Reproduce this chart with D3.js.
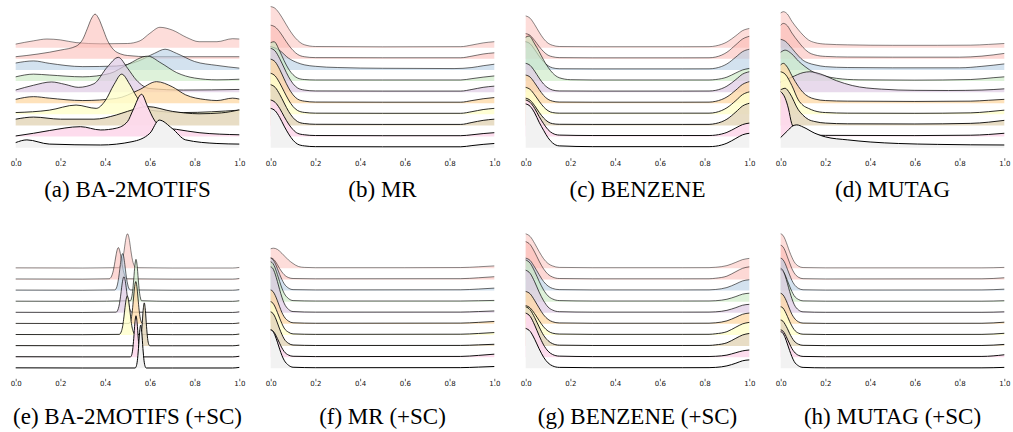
<!DOCTYPE html>
<html>
<head>
<meta charset="utf-8">
<script src="https://cdn.jsdelivr.net/npm/d3@7"></script>
<style>
  html, body { margin: 0; background: #fff; }
  svg { display: block; }
</style>
</head>
<body>
<svg id="fig" width="1013" height="432"></svg>
<script>
// Pastel1 colours sampled for ten ridges (first colour repeats)
const rowColors = ["#fbb4ae", "#fbb4ae", "#b3cde3", "#ccebc5", "#decbe4",
                   "#fed9a6", "#ffffcc", "#e5d8bd", "#fddaec", "#f2f2f2"];

const tickValues = [0, 0.2, 0.4, 0.6, 0.8, 1.0];
const tickLabels = ["0.0", "0.2", "0.4", "0.6", "0.8", "1.0"];

const captions = ["(a) BA-2MOTIFS", "(b) MR", "(c) BENZENE", "(d) MUTAG",
                  "(e) BA-2MOTIFS (+SC)", "(f) MR (+SC)", "(g) BENZENE (+SC)", "(h) MUTAG (+SC)"];

// Density estimates per ridge: [score, density]
const baMotifs = [
  [[0,1.2],[0.08,2.3],[0.14,2.9],[0.2,2.6],[0.27,1.7],[0.38,1.3],[0.5,1.4],[0.556,2.3],[0.6,4.8],[0.645,6.8],[0.7,5.9],[0.765,3.4],[0.82,2.0],[0.9,2.0],[0.97,3.0],[1,2.9]],
  [[0,0.7],[0.1,1.6],[0.2,2.9],[0.27,4.2],[0.3,6.5],[0.32,10],[0.34,13.6],[0.355,14.9],[0.37,13.6],[0.39,10],[0.41,6.2],[0.437,3.1],[0.47,1.6],[0.5,1.1],[0.6,0.7],[1,0.7]],
  [[0,2.3],[0.08,3.0],[0.15,2.2],[0.3,1.1],[0.45,1.3],[0.55,3.0],[0.62,5.5],[0.668,6.9],[0.72,5.5],[0.8,2.8],[0.9,1.5],[1,0.6]],
  [[0,1.4],[0.08,2.3],[0.15,2.0],[0.3,1.4],[0.42,2.5],[0.5,5.5],[0.59,8.3],[0.65,6.0],[0.72,2.8],[0.8,1.0],[0.9,0.4],[1,0.6]],
  [[0,0.7],[0.08,2.3],[0.16,3.4],[0.22,2.6],[0.28,1.6],[0.35,2.8],[0.41,8.4],[0.459,11.6],[0.5,8],[0.54,4],[0.6,1.2],[0.75,0.7],[1,0.9]],
  [[0,1.3],[0.08,2.2],[0.15,1.7],[0.3,0.9],[0.45,1.6],[0.55,4.4],[0.63,7.2],[0.7,5.5],[0.76,2.8],[0.85,1.2],[0.9,0.9],[0.97,1.7],[1,1.4]],
  [[0,0.6],[0.15,1.4],[0.27,3.1],[0.36,2.0],[0.4,4.5],[0.44,10],[0.474,13.4],[0.51,10],[0.54,6.0],[0.6,1.4],[0.75,0.6],[1,1.4]],
  [[0,2.1],[0.08,2.8],[0.2,2.1],[0.35,2.1],[0.45,3.5],[0.5,4.7],[0.59,6.3],[0.7,4.7],[0.82,3.9],[0.92,4.2],[1,5.2]],
  [[0,0.2],[0.08,1.1],[0.15,2.0],[0.29,3.3],[0.38,2.2],[0.45,2.8],[0.5,5],[0.525,8.9],[0.563,14.1],[0.59,10],[0.62,5.5],[0.66,3.0],[0.72,2.4],[0.82,1.3],[1,0.6]],
  [[0,1.7],[0.05,2.6],[0.15,1.2],[0.38,0.9],[0.52,2.0],[0.6,4.8],[0.642,9.2],[0.7,6.4],[0.76,2.6],[0.9,1.4],[1,1.2]]
];

const mr = [
  [[0,13.7],[0.02,13.1],[0.04,11.3],[0.06,8.9],[0.08,6.4],[0.1,4.2],[0.12,2.5],[0.15,1.0],[0.2,0.4],[0.5,0.3],[0.85,0.35],[0.9,0.9],[0.95,1.6],[1,2.0]],
  [[0,11.2],[0.02,10.6],[0.04,9.0],[0.06,6.8],[0.08,4.6],[0.1,2.8],[0.12,1.5],[0.15,0.7],[0.2,0.4],[0.5,0.35],[0.85,0.35],[0.9,0.9],[0.95,1.6],[1,2.0]],
  [[0,7.8],[0.04,6.5],[0.08,3.9],[0.12,2.4],[0.15,1.7],[0.2,1.2],[0.3,0.8],[0.5,0.55],[0.82,0.45],[0.9,0.8],[0.95,1.4],[1,1.9]],
  [[0,12.8],[0.015,13.1],[0.04,10.0],[0.06,6.8],[0.08,4.0],[0.1,2.1],[0.12,1.0],[0.15,0.5],[0.2,0.35],[0.5,0.35],[0.85,0.35],[0.9,0.8],[0.95,1.3],[1,1.7]],
  [[0,14.6],[0.02,13.7],[0.04,11.2],[0.06,8.1],[0.08,5.1],[0.1,2.8],[0.12,1.4],[0.15,0.7],[0.2,0.4],[0.5,0.35],[0.85,0.35],[0.9,0.9],[0.95,1.6],[1,2.0]],
  [[0,14.7],[0.02,13.8],[0.04,11.3],[0.06,8.1],[0.08,5.1],[0.1,2.8],[0.12,1.4],[0.15,0.7],[0.2,0.4],[0.5,0.35],[0.85,0.35],[0.9,0.9],[0.95,1.5],[1,1.9]],
  [[0,13.7],[0.02,12.8],[0.04,10.5],[0.06,7.6],[0.08,4.8],[0.1,2.6],[0.12,1.3],[0.15,0.65],[0.2,0.4],[0.5,0.35],[0.85,0.35],[0.9,0.9],[0.95,1.6],[1,2.0]],
  [[0,13.6],[0.02,12.7],[0.04,10.4],[0.06,7.5],[0.08,4.7],[0.1,2.6],[0.12,1.3],[0.15,0.65],[0.2,0.4],[0.5,0.35],[0.85,0.35],[0.9,1.0],[0.95,1.7],[1,2.1]],
  [[0,12.2],[0.02,11.4],[0.04,9.4],[0.06,6.7],[0.08,4.2],[0.1,2.3],[0.12,1.1],[0.15,0.6],[0.2,0.35],[0.5,0.3],[0.85,0.3],[0.9,0.6],[0.95,1.0],[1,1.3]],
  [[0,13.1],[0.02,12.3],[0.04,10.1],[0.06,7.2],[0.08,4.6],[0.1,2.5],[0.12,1.2],[0.15,0.6],[0.2,0.35],[0.5,0.3],[0.85,0.3],[0.9,0.7],[0.95,1.1],[1,1.4]]
];

const benzene = [
  [[0,10.6],[0.02,9.8],[0.04,7.7],[0.06,5.2],[0.08,3.0],[0.1,1.5],[0.12,0.8],[0.15,0.4],[0.3,0.33],[0.7,0.33],[0.82,0.35],[0.85,0.6],[0.9,1.9],[0.94,4.0],[0.97,5.7],[1,6.4]],
  [[0,8.4],[0.02,7.8],[0.04,6.1],[0.06,4.1],[0.08,2.4],[0.1,1.2],[0.12,0.7],[0.15,0.4],[0.3,0.33],[0.7,0.33],[0.82,0.35],[0.85,0.6],[0.9,2.2],[0.94,4.7],[0.97,6.6],[1,7.5]],
  [[0,9.4],[0.02,8.7],[0.04,6.8],[0.06,4.6],[0.08,2.7],[0.1,1.4],[0.12,0.7],[0.15,0.4],[0.3,0.35],[0.7,0.35],[0.82,0.37],[0.85,0.6],[0.9,2.0],[0.94,4.3],[0.97,6.1],[1,6.9]],
  [[0,14.6],[0.015,15.0],[0.04,12.4],[0.06,9.8],[0.08,7.0],[0.1,4.6],[0.12,2.7],[0.15,1.1],[0.2,0.45],[0.3,0.35],[0.7,0.35],[0.82,0.35],[0.85,0.5],[0.9,1.3],[0.94,2.7],[0.97,3.7],[1,4.2]],
  [[0,9.6],[0.02,8.9],[0.04,7.0],[0.06,4.7],[0.08,2.7],[0.1,1.4],[0.12,0.7],[0.15,0.4],[0.3,0.35],[0.7,0.35],[0.82,0.37],[0.85,0.6],[0.9,2.0],[0.94,4.2],[0.97,6.0],[1,6.8]],
  [[0,9.4],[0.02,8.7],[0.04,6.8],[0.06,4.6],[0.08,2.6],[0.1,1.3],[0.12,0.7],[0.15,0.4],[0.3,0.35],[0.7,0.35],[0.82,0.37],[0.85,0.65],[0.9,2.1],[0.94,4.4],[0.97,6.3],[1,7.2]],
  [[0,9.0],[0.02,8.3],[0.04,6.5],[0.06,4.4],[0.08,2.5],[0.1,1.2],[0.12,0.6],[0.15,0.4],[0.3,0.4],[0.7,0.4],[0.82,0.4],[0.85,0.65],[0.9,2.2],[0.94,4.6],[0.97,6.6],[1,7.5]],
  [[0,9.1],[0.02,8.4],[0.04,6.6],[0.06,4.4],[0.08,2.5],[0.1,1.2],[0.12,0.6],[0.15,0.4],[0.3,0.35],[0.7,0.35],[0.82,0.37],[0.85,0.65],[0.9,2.1],[0.94,4.5],[0.97,6.5],[1,7.4]],
  [[0,12.2],[0.02,11.4],[0.04,9.4],[0.06,6.7],[0.08,4.3],[0.1,2.3],[0.12,1.1],[0.15,0.5],[0.3,0.35],[0.7,0.35],[0.82,0.35],[0.85,0.5],[0.9,1.4],[0.94,2.9],[0.97,4.0],[1,4.5]],
  [[0,14.6],[0.02,13.8],[0.04,11.6],[0.06,8.5],[0.08,5.8],[0.1,3.3],[0.12,1.6],[0.15,0.6],[0.3,0.35],[0.7,0.35],[0.82,0.35],[0.85,0.5],[0.9,1.5],[0.94,3.1],[0.97,4.3],[1,4.8]]
];

const mutag = [
  [[0,11.6],[0.012,12.0],[0.03,11.2],[0.05,8.8],[0.08,5.9],[0.1,4.2],[0.124,2.6],[0.153,1.7],[0.2,1.2],[0.3,0.95],[0.5,0.8],[0.7,0.8],[0.85,0.85],[0.93,1.1],[1,1.4]],
  [[0,11.2],[0.012,11.8],[0.03,11.0],[0.05,8.6],[0.08,5.6],[0.1,3.8],[0.124,2.2],[0.153,1.3],[0.2,0.8],[0.3,0.6],[0.5,0.55],[0.8,0.55],[0.9,0.9],[1,1.8]],
  [[0,10.2],[0.02,9.6],[0.05,7.2],[0.08,4.6],[0.1,3.2],[0.124,2.3],[0.153,1.7],[0.2,1.1],[0.3,0.8],[0.5,0.7],[0.8,0.7],[0.9,1.2],[1,2.0]],
  [[0,9.6],[0.02,10.3],[0.05,9.0],[0.08,6.6],[0.109,4.8],[0.15,2.8],[0.2,1.6],[0.25,0.9],[0.35,0.4],[0.6,0.3],[0.85,0.5],[0.95,1.1],[1,1.4]],
  [[0,3.4],[0.05,5.0],[0.1,6.5],[0.13,6.8],[0.18,6.0],[0.25,3.8],[0.32,2.2],[0.45,1.0],[0.6,0.6],[0.75,0.55],[0.9,0.7],[1,1.1]],
  [[0,12.8],[0.012,13.3],[0.03,12.0],[0.05,9.2],[0.079,5.6],[0.1,3.6],[0.124,2.2],[0.153,1.4],[0.2,0.9],[0.3,0.7],[0.6,0.6],[0.85,0.7],[0.93,1.0],[1,1.3]],
  [[0,14.2],[0.02,13.4],[0.05,9.6],[0.079,4.8],[0.1,3.0],[0.124,2.0],[0.15,1.2],[0.2,0.6],[0.3,0.4],[0.6,0.35],[0.85,0.5],[0.93,0.9],[1,1.4]],
  [[0,11.9],[0.02,12.4],[0.04,10.8],[0.079,5.2],[0.1,3.4],[0.124,2.0],[0.153,1.3],[0.2,0.8],[0.3,0.55],[0.6,0.5],[0.85,0.7],[0.93,1.1],[1,1.7]],
  [[0,15],[0.02,12.8],[0.035,9.2],[0.049,4.4],[0.07,2.0],[0.094,1.1],[0.13,0.6],[0.2,0.4],[0.6,0.33],[0.85,0.45],[0.93,0.7],[1,1.1]],
  [[0,3.4],[0.03,5.6],[0.055,7.3],[0.072,7.6],[0.1,6.9],[0.153,4.8],[0.2,3.6],[0.3,2.6],[0.4,1.9],[0.526,1.4],[0.7,1.1],[1,0.9]]
];

const baMotifsSC = [
  [[0,0.15],[0.3,0.1],[0.46,0.2],[0.465,0.4],[0.47,0.9],[0.475,1.9],[0.48,3.6],[0.485,6.0],[0.49,8.7],[0.495,10.7],[0.5,11.5],[0.505,10.7],[0.51,8.7],[0.515,6.0],[0.52,3.6],[0.525,1.9],[0.53,0.9],[0.535,0.4],[0.54,0.2],[0.7,0.1],[0.97,0.1],[1,0.3]],
  [[0,0.15],[0.3,0.1],[0.419,0.2],[0.424,0.5],[0.429,1.1],[0.434,2.2],[0.439,3.8],[0.444,6.0],[0.449,8.2],[0.454,9.9],[0.459,10.6],[0.464,9.9],[0.469,8.2],[0.474,6.0],[0.479,3.8],[0.484,2.2],[0.489,1.1],[0.494,0.5],[0.499,0.2],[0.7,0.1],[0.97,0.1],[1,0.3]],
  [[0,0.15],[0.3,0.1],[0.443,0.2],[0.448,0.5],[0.453,1.4],[0.458,3.1],[0.463,5.6],[0.468,8.7],[0.473,11.3],[0.478,12.3],[0.483,11.3],[0.488,8.7],[0.493,5.6],[0.498,3.1],[0.503,1.4],[0.508,0.5],[0.513,0.2],[0.7,0.1],[0.97,0.1],[1,0.3]],
  [[0,0.15],[0.3,0.1],[0.513,0.3],[0.518,1.2],[0.523,3.5],[0.528,7.6],[0.533,12.1],[0.538,14.1],[0.543,12.1],[0.548,7.6],[0.553,3.5],[0.558,1.2],[0.563,0.3],[0.7,0.1],[0.97,0.1],[1,0.3]],
  [[0,0.15],[0.3,0.1],[0.449,0.2],[0.454,0.5],[0.459,1.4],[0.464,3.0],[0.469,5.5],[0.474,8.5],[0.479,11],[0.484,12],[0.489,11],[0.494,8.5],[0.499,5.5],[0.504,3.0],[0.509,1.4],[0.514,0.5],[0.519,0.2],[0.7,0.1],[0.97,0.1],[1,0.3]],
  [[0,0.15],[0.3,0.1],[0.507,0.15],[0.512,0.6],[0.517,1.9],[0.522,4.6],[0.527,8.6],[0.532,12.4],[0.537,14.1],[0.542,12.4],[0.547,8.6],[0.552,4.6],[0.557,1.9],[0.562,0.6],[0.567,0.15],[0.7,0.1],[0.97,0.1],[1,0.3]],
  [[0,0.15],[0.3,0.1],[0.464,0.2],[0.469,0.6],[0.474,1.5],[0.479,3.2],[0.484,6.0],[0.489,9.2],[0.494,11.9],[0.499,13],[0.504,11.9],[0.509,9.2],[0.514,6.0],[0.519,3.2],[0.524,1.5],[0.529,0.6],[0.534,0.2],[0.7,0.1],[0.97,0.1],[1,0.3]],
  [[0,0.15],[0.3,0.1],[0.55,0.1],[0.555,0.6],[0.56,2.5],[0.565,6.6],[0.57,11.9],[0.575,14.4],[0.58,11.9],[0.585,6.6],[0.59,2.5],[0.595,0.6],[0.6,0.1],[0.7,0.1],[0.97,0.1],[1,0.3]],
  [[0,0.15],[0.3,0.1],[0.513,0.1],[0.518,0.6],[0.523,2.4],[0.528,6.3],[0.533,11.4],[0.538,13.8],[0.543,11.4],[0.548,6.3],[0.553,2.4],[0.558,0.6],[0.563,0.1],[0.7,0.1],[0.97,0.1],[1,0.3]],
  [[0,0.15],[0.3,0.1],[0.534,0.1],[0.539,0.6],[0.544,2.5],[0.549,6.6],[0.554,11.9],[0.559,14.4],[0.564,11.9],[0.569,6.6],[0.574,2.5],[0.579,0.6],[0.584,0.1],[0.7,0.1],[0.97,0.1],[1,0.3]]
];

const mrSC = [
  [[0,6.5],[0.012,6.7],[0.03,6.3],[0.05,5.0],[0.079,2.8],[0.1,1.6],[0.124,0.6],[0.15,0.3],[0.2,0.2],[0.6,0.2],[0.85,0.25],[0.93,0.5],[1,0.8]],
  [[0,7.2],[0.01,6.9],[0.02,6.1],[0.03,4.9],[0.04,3.6],[0.05,2.5],[0.06,1.6],[0.08,0.6],[0.1,0.3],[0.2,0.2],[0.85,0.25],[0.93,0.55],[1,0.9]],
  [[0,10.8],[0.01,10.3],[0.02,9.1],[0.03,7.3],[0.04,5.4],[0.05,3.7],[0.06,2.3],[0.08,0.8],[0.1,0.3],[0.2,0.2],[0.85,0.25],[0.93,0.5],[1,0.8]],
  [[0,13.3],[0.01,12.7],[0.02,11.2],[0.03,9.0],[0.04,6.7],[0.05,4.5],[0.06,2.8],[0.08,1.0],[0.1,0.35],[0.2,0.2],[0.85,0.2],[0.93,0.3],[1,0.4]],
  [[0,15.3],[0.01,14.7],[0.02,12.9],[0.03,10.4],[0.04,7.7],[0.05,5.2],[0.06,3.2],[0.08,1.1],[0.1,0.4],[0.2,0.2],[0.85,0.22],[0.93,0.4],[1,0.6]],
  [[0,11.3],[0.01,10.8],[0.02,9.5],[0.03,7.7],[0.04,5.7],[0.05,3.8],[0.06,2.4],[0.08,0.9],[0.1,0.35],[0.2,0.2],[0.85,0.25],[0.93,0.5],[1,0.8]],
  [[0,11.1],[0.01,10.6],[0.02,9.3],[0.03,7.5],[0.04,5.6],[0.05,3.8],[0.06,2.3],[0.08,0.9],[0.1,0.35],[0.2,0.2],[0.85,0.25],[0.93,0.5],[1,0.8]],
  [[0,11.4],[0.01,10.9],[0.02,9.6],[0.03,7.7],[0.04,5.7],[0.05,3.9],[0.06,2.4],[0.08,0.9],[0.1,0.35],[0.2,0.2],[0.85,0.22],[0.93,0.4],[1,0.6]],
  [[0,9.1],[0.01,8.7],[0.02,7.7],[0.03,6.2],[0.04,4.6],[0.05,3.1],[0.06,1.9],[0.08,0.7],[0.1,0.3],[0.2,0.2],[0.85,0.25],[0.93,0.6],[1,1.0]],
  [[0,12.8],[0.01,12.3],[0.02,10.8],[0.03,8.7],[0.04,6.4],[0.05,4.3],[0.06,2.7],[0.08,1.0],[0.1,0.35],[0.2,0.2],[0.85,0.22],[0.93,0.4],[1,0.6]]
];

const benzeneSC = [
  [[0,11.5],[0.02,10.6],[0.04,8.3],[0.06,5.6],[0.08,3.2],[0.1,1.6],[0.12,0.8],[0.15,0.3],[0.3,0.2],[0.7,0.2],[0.82,0.22],[0.85,0.35],[0.9,0.9],[0.94,2.0],[0.97,2.9],[1,3.3]],
  [[0,12.6],[0.02,11.6],[0.04,9.1],[0.06,6.1],[0.08,3.5],[0.1,1.7],[0.12,0.8],[0.15,0.3],[0.3,0.2],[0.7,0.2],[0.82,0.22],[0.85,0.4],[0.9,1.1],[0.94,2.6],[0.97,3.7],[1,4.2]],
  [[0,10.8],[0.02,10.0],[0.04,7.8],[0.06,5.3],[0.08,3.0],[0.1,1.5],[0.12,0.7],[0.15,0.3],[0.3,0.2],[0.7,0.2],[0.82,0.22],[0.85,0.35],[0.9,1.0],[0.94,2.2],[0.97,3.2],[1,3.6]],
  [[0,13.9],[0.02,12.8],[0.04,10.1],[0.06,6.8],[0.08,3.9],[0.1,1.9],[0.12,0.9],[0.15,0.35],[0.3,0.2],[0.7,0.2],[0.82,0.22],[0.85,0.3],[0.9,0.8],[0.94,1.7],[0.97,2.5],[1,2.8]],
  [[0,14.2],[0.02,13.1],[0.04,10.3],[0.06,6.9],[0.08,4.0],[0.1,1.9],[0.12,0.9],[0.15,0.35],[0.3,0.2],[0.7,0.2],[0.82,0.22],[0.85,0.3],[0.9,0.8],[0.94,1.7],[0.97,2.5],[1,2.8]],
  [[0,10.8],[0.02,10.0],[0.04,7.8],[0.06,5.3],[0.08,3.0],[0.1,1.5],[0.12,0.7],[0.15,0.3],[0.3,0.2],[0.7,0.2],[0.82,0.22],[0.85,0.35],[0.9,1.0],[0.94,2.2],[0.97,3.2],[1,3.6]],
  [[0,9.8],[0.02,9.0],[0.04,7.1],[0.06,4.8],[0.08,2.7],[0.1,1.3],[0.12,0.6],[0.15,0.3],[0.3,0.2],[0.7,0.2],[0.82,0.22],[0.85,0.4],[0.9,1.1],[0.94,2.6],[0.97,3.7],[1,4.2]],
  [[0,13.1],[0.02,12.1],[0.04,9.5],[0.06,6.4],[0.08,3.6],[0.1,1.8],[0.12,0.8],[0.15,0.3],[0.3,0.2],[0.7,0.2],[0.82,0.22],[0.85,0.4],[0.9,1.1],[0.94,2.6],[0.97,3.7],[1,4.2]],
  [[0,14.7],[0.02,13.6],[0.04,10.7],[0.06,7.2],[0.08,4.1],[0.1,2.0],[0.12,0.9],[0.15,0.35],[0.3,0.2],[0.7,0.2],[0.82,0.22],[0.85,0.3],[0.9,0.7],[0.94,1.5],[0.97,2.1],[1,2.4]],
  [[0,13.3],[0.02,12.3],[0.04,9.7],[0.06,6.5],[0.08,3.7],[0.1,1.8],[0.12,0.8],[0.15,0.3],[0.3,0.2],[0.7,0.2],[0.82,0.22],[0.85,0.3],[0.9,0.8],[0.94,1.7],[0.97,2.5],[1,2.8]]
];

const mutagSC = [
  [[0,11.5],[0.01,11.0],[0.02,9.6],[0.03,7.6],[0.04,5.5],[0.05,3.7],[0.06,2.2],[0.08,0.7],[0.1,0.25],[0.2,0.15],[0.9,0.15],[1,0.3]],
  [[0,11.4],[0.01,10.9],[0.02,9.5],[0.03,7.5],[0.04,5.5],[0.05,3.6],[0.06,2.2],[0.08,0.7],[0.1,0.25],[0.2,0.15],[0.9,0.2],[1,0.55]],
  [[0,10.8],[0.01,10.3],[0.02,9.0],[0.03,7.1],[0.04,5.2],[0.05,3.4],[0.06,2.1],[0.08,0.7],[0.1,0.25],[0.2,0.15],[0.9,0.2],[1,0.45]],
  [[0,10.6],[0.01,10.1],[0.02,8.8],[0.03,7.0],[0.04,5.1],[0.05,3.4],[0.06,2.0],[0.08,0.7],[0.1,0.25],[0.2,0.15],[0.9,0.15],[1,0.3]],
  [[0,14.8],[0.01,14.1],[0.02,12.3],[0.03,9.8],[0.04,7.1],[0.05,4.7],[0.06,2.8],[0.08,0.9],[0.1,0.3],[0.2,0.15],[0.9,0.15],[1,0.3]],
  [[0,10.2],[0.01,9.7],[0.02,8.5],[0.03,6.8],[0.04,4.9],[0.05,3.2],[0.06,2.0],[0.08,0.65],[0.1,0.25],[0.2,0.15],[0.9,0.2],[1,0.55]],
  [[0,9.4],[0.01,9.0],[0.02,7.8],[0.03,6.2],[0.04,4.5],[0.05,3.0],[0.06,1.8],[0.08,0.6],[0.1,0.25],[0.2,0.15],[0.9,0.2],[1,0.55]],
  [[0,8.7],[0.01,8.3],[0.02,7.2],[0.03,5.8],[0.04,4.2],[0.05,2.8],[0.06,1.7],[0.08,0.6],[0.1,0.25],[0.2,0.15],[0.9,0.2],[1,0.55]],
  [[0,9.1],[0.01,8.7],[0.02,7.6],[0.03,6.0],[0.04,4.4],[0.05,2.9],[0.06,1.8],[0.08,0.6],[0.1,0.25],[0.2,0.15],[0.9,0.25],[1,0.8]],
  [[0,12.2],[0.01,11.7],[0.02,10.2],[0.03,8.1],[0.04,5.9],[0.05,3.9],[0.06,2.3],[0.08,0.8],[0.1,0.3],[0.2,0.15],[0.9,0.15],[1,0.3]]
];

const panelData = [baMotifs, mr, benzene, mutag, baMotifsSC, mrSC, benzeneSC, mutagSC];

// layout
const panelLeft = 15.7, panelWidth = 223.6, panelStep = 255;
const firstBaseline = [47.7, 268.3];
const ridgeGap = 11.11;
const captionY = [197, 424];

const svg = d3.select("#fig");

panelData.forEach((rows, k) => {
  const col = k % 4, band = Math.floor(k / 4);
  const left = panelLeft + col * panelStep;
  const x = d3.scaleLinear().domain([0, 1]).range([left, left + panelWidth]);
  const h = d3.scaleLinear().domain([0, 16]).range([0, 48]);
  const g = svg.append("g").attr("class", "panel");

  rows.forEach((pts, i) => {
    const base = firstBaseline[band] + i * ridgeGap;
    const alpha = 0.4 + (i + 1) * 0.06;
    const area = d3.area()
      .x(d => x(d[0])).y0(base).y1(d => base - h(d[1]))
      .curve(d3.curveMonotoneX);
    const line = d3.line()
      .x(d => x(d[0])).y(d => base - h(d[1]))
      .curve(d3.curveMonotoneX);
    g.append("path").attr("d", area(pts))
      .attr("fill", rowColors[i]).attr("fill-opacity", alpha);
    g.append("path").attr("d", line(pts))
      .attr("fill", "none").attr("stroke", "#000")
      .attr("stroke-opacity", alpha).attr("stroke-width", 1);
  });

  const axisY = firstBaseline[band] + 9 * ridgeGap + 10.5;
  const axis = d3.axisBottom(x)
    .tickValues(tickValues)
    .tickFormat((d, i) => tickLabels[i])
    .tickSize(2.5).tickPadding(0);
  const ax = svg.append("g")
    .attr("transform", `translate(0,${axisY})`)
    .call(axis)
    .attr("font-family", "DejaVu Sans")
    .attr("font-size", 7);
  ax.select(".domain").remove();
  ax.selectAll(".tick line").attr("stroke", "#444").attr("stroke-width", 0.8);
  ax.selectAll(".tick text").attr("fill", "#111");

  svg.append("text")
    .attr("x", left + panelWidth / 2)
    .attr("y", captionY[band])
    .attr("text-anchor", "middle")
    .attr("font-family", "Liberation Serif")
    .attr("font-size", 23)
    .attr("fill", "#000")
    .text(captions[k]);
});
</script>
</body>
</html>
